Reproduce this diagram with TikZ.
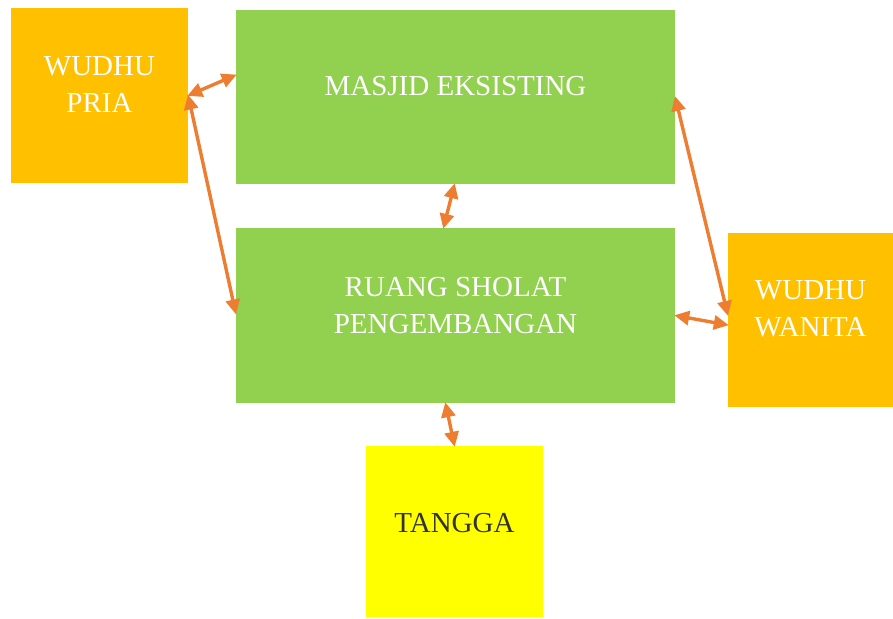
\documentclass[tikz,border=0pt]{standalone}
\usepackage{fontspec}
\setmainfont{Liberation Serif}
\usetikzlibrary{arrows.meta}
\definecolor{hijau}{HTML}{92D050}
\definecolor{oranye}{HTML}{FFC000}
\definecolor{kuning}{HTML}{FFFF00}
\definecolor{panah}{HTML}{ED7D31}
\tikzset{
  kotak/.style={fill=#1, draw=none, inner sep=0pt},
  tulisan/.style={font=\fontsize{29}{37}\selectfont, text=white, align=center},
  hubung/.style={draw=panah, line width=3.4pt, {Triangle[length=15pt,width=14pt]}-{Triangle[length=15pt,width=14pt]}, shorten <=-1pt, shorten >=-1pt}
}
\begin{document}
\begin{tikzpicture}[x=1pt,y=-1pt]
  \useasboundingbox (0,0) rectangle (893,618);
  % kotak-kotak ruang
  \node[kotak=oranye, minimum width=177pt, minimum height=175pt,
    label={[tulisan, yshift=11pt]center:WUDHU\\PRIA}] (pria) at (99.5,95.5) {};
  \node[kotak=hijau, minimum width=439pt, minimum height=174pt,
    label={[tulisan, yshift=11pt]center:MASJID EKSISTING}] (masjid) at (455.5,97) {};
  \node[kotak=hijau, minimum width=439pt, minimum height=175pt,
    label={[tulisan, yshift=10pt]center:RUANG SHOLAT\\PENGEMBANGAN}] (ruang) at (455.5,315.5) {};
  \node[kotak=oranye, minimum width=165pt, minimum height=174pt,
    label={[tulisan, yshift=11pt]center:WUDHU\\WANITA}] (wanita) at (810.5,320) {};
  \node[kotak=kuning, minimum width=177pt, minimum height=171pt,
    label={[tulisan, text=black!80, yshift=8pt]center:TANGGA}] (tangga) at (454.5,531.5) {};
  % panah penghubung
  \draw[hubung] (pria.east) -- ([yshift=22pt]masjid.west);
  \draw[hubung] (pria.east) -- ([yshift=2pt]ruang.west);
  \draw[hubung] ([xshift=-1pt]masjid.south) -- ([xshift=-12pt]ruang.north);
  \draw[hubung] (masjid.east) -- ([yshift=5pt]wanita.west);
  \draw[hubung] (ruang.east) -- ([yshift=-5pt]wanita.west);
  \draw[hubung] ([xshift=-10pt]ruang.south) -- (tangga.north);
\end{tikzpicture}
\end{document}
